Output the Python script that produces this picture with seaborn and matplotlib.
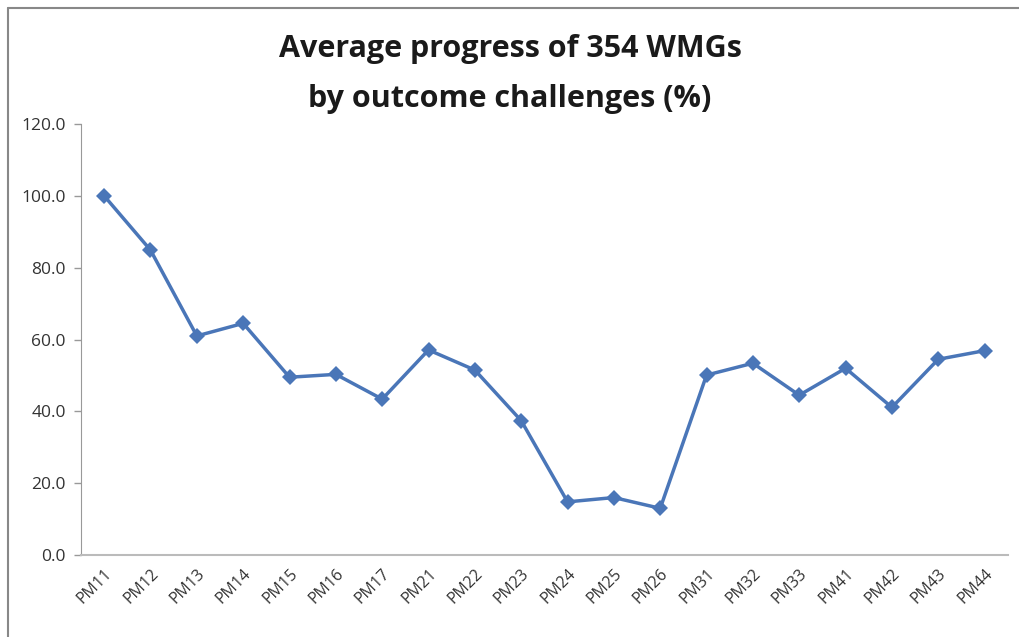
import pandas as pd
import matplotlib.pyplot as plt
import seaborn as sns
from matplotlib.lines import Line2D

categories = ['PM11', 'PM12', 'PM13', 'PM14', 'PM15', 'PM16', 'PM17',
              'PM21', 'PM22', 'PM23', 'PM24', 'PM25', 'PM26',
              'PM31', 'PM32', 'PM33', 'PM41', 'PM42', 'PM43', 'PM44']
progress = [100.0, 84.9, 61.0, 64.5, 49.5, 50.3, 43.4,
            57.1, 51.5, 37.4, 14.8, 16.0, 13.0,
            50.1, 53.4, 44.5, 52.0, 41.1, 54.5, 56.9]
y_ticks = [0, 20, 40, 60, 80, 100, 120]

df = pd.DataFrame({'challenge': categories, 'progress': progress})

sns.set_style('white')
plt.rcParams['font.family'] = ['Open Sans', 'DejaVu Sans']

fig = plt.figure(figsize=(10.2, 6.37), dpi=100)
ax = fig.add_axes([0.0794, 0.1287, 0.9086, 0.6766])

sns.lineplot(data=df, x='challenge', y='progress', sort=False, ax=ax,
             color='#4A76B8', linewidth=2.5, marker='D', markersize=8.5,
             markeredgewidth=0)

ax.set_xlim(-0.5, len(categories) - 0.5)
ax.set_ylim(0, 120)
ax.set_yticks(y_ticks)
ax.set_yticklabels([f'{v:.1f}' for v in y_ticks], fontsize=12.5, color='#333333')
ax.set_xticks(range(len(categories)))
ax.set_xticklabels(categories, rotation=45, ha='right', rotation_mode='anchor',
                   fontsize=11.5, color='#333333')
ax.tick_params(axis='x', which='major', length=0, pad=8)
ax.set_xticks([i - 0.5 for i in range(len(categories) + 1)], minor=True)
ax.tick_params(axis='x', which='minor', length=5, color='#BBBBBB', width=1)
ax.tick_params(axis='y', length=5, color='#999999', width=1, pad=6, left=True)
ax.set_xlabel('')
ax.set_ylabel('')

for side in ['top', 'right']:
    ax.spines[side].set_visible(False)
ax.spines['left'].set_color('#999999')
ax.spines['bottom'].set_color('#BBBBBB')
ax.spines['bottom'].set_linewidth(1.5)

fig.text(0.5, 0.923, 'Average progress of 354 WMGs', ha='center', va='center',
         fontsize=22, fontweight='bold', color='#1a1a1a')
fig.text(0.5, 0.845, 'by outcome challenges (%)', ha='center', va='center',
         fontsize=22, fontweight='bold', color='#1a1a1a')

# chart frame (only top and left edges visible in the original)
fig.add_artist(Line2D([0.008, 1.0], [0.987, 0.987], transform=fig.transFigure,
                      color='#888888', linewidth=1.5))
fig.add_artist(Line2D([0.008, 0.008], [0.0, 0.987], transform=fig.transFigure,
                      color='#888888', linewidth=1.5))

plt.savefig('out.png', dpi=100)
